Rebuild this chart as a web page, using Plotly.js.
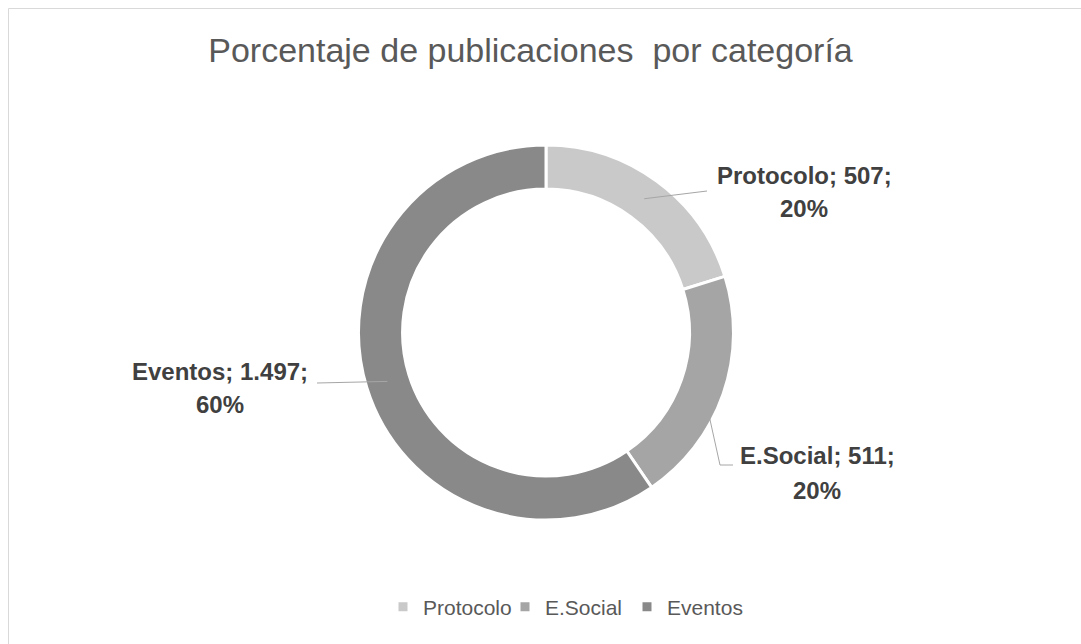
<!DOCTYPE html>
<html>
<head>
<meta charset="utf-8">
<script src="https://cdn.plot.ly/plotly-3.0.1.min.js"></script>
<style>
  html, body { margin: 0; padding: 0; background: #ffffff; }
  #chart { width: 1081px; height: 644px; }
</style>
</head>
<body>
<div id="chart"></div>
<script>
// ---- Data ----
const categories = ["Protocolo", "E.Social", "Eventos"];
const values = [507, 511, 1497];
const colors = ["#c9c9c9", "#a5a5a5", "#898989"];
const chartTitle = "Porcentaje de publicaciones \u00a0por categoría";

// ---- Layout helpers (pixel -> paper) ----
const W = 1081, H = 644;
const px = x => x / W;
const py = y => 1 - y / H;

// Pie geometry (layout)
const cx = 546, cy = 332.5, R = 187.5, hole = 0.765;

// Label placement (layout): text center of line1 / line2, and leader line outer points
const labelPos = {
  "Protocolo": { x: 804, y1: 175, y2: 209, leader: [[707, 191]] },
  "E.Social":  { x: 817, y1: 455, y2: 490, leader: [[720, 465], [733, 465]] },
  "Eventos":   { x: 220, y1: 371, y2: 404, leader: [[317, 383]] }
};

function fmtThousands(n) {
  return String(n).replace(/\B(?=(\d{3})+(?!\d))/g, ".");
}

const total = values.reduce((a, b) => a + b, 0);
const annotations = [];
const shapes = [];
let cum = 0;
categories.forEach((cat, i) => {
  const frac = values[i] / total;
  const mid = (cum + frac / 2) * 2 * Math.PI; // clockwise from 12 o'clock
  cum += frac;
  const rr = R * 0.885;
  const ix = cx + rr * Math.sin(mid);
  const iy = cy - rr * Math.cos(mid);
  const lp = labelPos[cat];
  let path = `M${px(ix)},${py(iy)}`;
  lp.leader.forEach(p => { path += ` L${px(p[0])},${py(p[1])}`; });
  shapes.push({
    type: "path", xref: "paper", yref: "paper", path: path,
    line: { color: "#a6a6a6", width: 1 }
  });
  const font = { family: "Liberation Sans, Arial, sans-serif", size: 24, color: "#404040", weight: "bold" };
  annotations.push({
    xref: "paper", yref: "paper", x: px(lp.x), y: py(lp.y1),
    xanchor: "center", yanchor: "middle", showarrow: false,
    text: "<b>" + cat + "; " + fmtThousands(values[i]) + ";</b>", font: font
  });
  annotations.push({
    xref: "paper", yref: "paper", x: px(lp.x), y: py(lp.y2),
    xanchor: "center", yanchor: "middle", showarrow: false,
    text: "<b>" + Math.round(frac * 100) + "%</b>", font: font
  });
});

// Chart border
shapes.push({
  type: "rect", xref: "paper", yref: "paper",
  x0: px(8.5), x1: px(1090), y0: py(660), y1: py(8.5),
  line: { color: "#d9d9d9", width: 1 }, fillcolor: "rgba(0,0,0,0)"
});

const trace = {
  type: "pie",
  labels: categories,
  values: values,
  sort: false,
  direction: "clockwise",
  rotation: 0,
  hole: hole,
  textinfo: "none",
  hoverinfo: "label+value+percent",
  marker: { colors: colors, line: { color: "#ffffff", width: 3 } },
  domain: { x: [px(cx - R), px(cx + R)], y: [py(cy + R), py(cy - R)] }
};

const layout = {
  width: W, height: H,
  margin: { l: 0, r: 0, t: 0, b: 0 },
  paper_bgcolor: "#ffffff",
  plot_bgcolor: "#ffffff",
  title: {
    text: chartTitle,
    font: { family: "Liberation Sans, Arial, sans-serif", size: 34, color: "#595959" },
    x: 530.5 / W, xanchor: "center", xref: "container",
    y: 1 - 50 / H, yanchor: "middle", yref: "container"
  },
  showlegend: true,
  legend: {
    orientation: "h",
    x: px(383), xanchor: "left",
    y: py(607), yanchor: "middle",
    font: { family: "Liberation Sans, Arial, sans-serif", size: 21, color: "#595959" },
    itemwidth: 30,
    entrywidth: 77,
    entrywidthmode: "pixels"
  },
  annotations: annotations,
  shapes: shapes
};

Plotly.newPlot("chart", [trace], layout, { displayModeBar: false, staticPlot: true });
</script>
</body>
</html>
